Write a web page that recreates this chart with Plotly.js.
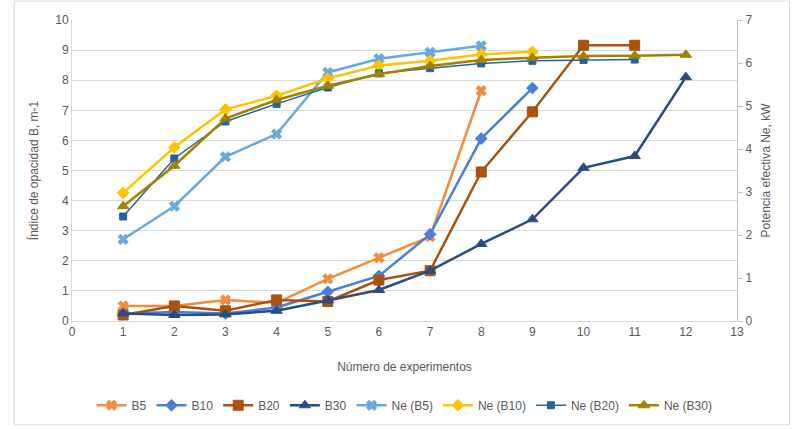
<!DOCTYPE html>
<html>
<head>
<meta charset="utf-8">
<script src="https://cdn.plot.ly/plotly-3.0.1.min.js"></script>
<style>html,body{margin:0;padding:0;background:#fff;}#chart{width:800px;height:429px;}</style>
</head>
<body>
<div id="chart"></div>
<script>
// Number of experiments
const xB5 = [1,2,3,4,5,6,7,8];
const xB10 = [1,2,3,4,5,6,7,8,9];
const xB20 = [1,2,3,4,5,6,7,8,9,10,11];
const xB30 = [1,2,3,4,5,6,7,8,9,10,11,12];

// Opacity index B, m-1 (left axis)
const B5 = [0.5, 0.5, 0.7, 0.6, 1.4, 2.1, 2.8, 7.65];
const B10 = [0.25, 0.3, 0.25, 0.45, 0.97, 1.5, 2.88, 6.06, 7.74];
const B20 = [0.2, 0.5, 0.34, 0.7, 0.65, 1.36, 1.67, 4.95, 6.95, 9.16, 9.16];
const B30 = [0.25, 0.2, 0.22, 0.34, 0.68, 1.03, 1.67, 2.56, 3.38, 5.09, 5.48, 8.1];

// Effective power Ne, kW (right axis)
const NeB5 = [1.90, 2.67, 3.82, 4.35, 5.78, 6.10, 6.25, 6.40];
const NeB10 = [2.98, 4.04, 4.92, 5.24, 5.64, 5.94, 6.05, 6.20, 6.26];
const NeB20 = [2.43, 3.78, 4.64, 5.05, 5.43, 5.76, 5.88, 5.99, 6.05, 6.07, 6.08];
const NeB30 = [2.67, 3.61, 4.71, 5.14, 5.47, 5.74, 5.93, 6.07, 6.12, 6.16, 6.17, 6.19];

const FONT = "'Liberation Sans Narrow', 'Liberation Sans', 'DejaVu Sans', sans-serif";

function tr(name, x, y, color, symbol, msize, lw, axis) {
  return {
    type: 'scatter', mode: 'lines+markers', name: name, x: x, y: y, yaxis: axis,
    line: {color: color, width: lw},
    marker: {color: color, symbol: symbol, size: msize, line: {color: color, width: 1}},
    cliponaxis: false
  };
}

const data = [
  tr('B5', xB5, B5, '#F28C3F', 'x', 9, 2.5, 'y'),
  tr('B10', xB10, B10, '#4A80D6', 'diamond', 9, 2.5, 'y'),
  tr('B20', xB20, B20, '#A9530F', 'square', 10, 2.5, 'y'),
  tr('B30', xB30, B30, '#2A4D80', 'triangle-up', 10, 2.5, 'y'),
  tr('Ne (B5)', xB5, NeB5, '#69A9DE', 'x', 9, 2.5, 'y2'),
  tr('Ne (B10)', xB10, NeB10, '#FFC400', 'diamond', 9, 2.5, 'y2'),
  tr('Ne (B20)', xB20, NeB20, '#24649E', 'square', 7, 1.5, 'y2'),
  tr('Ne (B30)', xB30, NeB30, '#A38200', 'triangle-up', 10, 2.5, 'y2')
];

const layout = {
  width: 800, height: 429,
  margin: {l: 72, r: 63, t: 20, b: 108, autoexpand: false},
  paper_bgcolor: '#fff', plot_bgcolor: '#fff',
  font: {family: FONT, size: 12, color: '#595959'},
  showlegend: true,
  legend: {orientation: 'h', x: 0.5, xanchor: 'center', y: -0.28, yanchor: 'middle',
           font: {family: FONT, size: 12, color: '#595959'}, itemwidth: 30, tracegroupgap: 0},
  xaxis: {
    range: [0, 13], dtick: 1, tick0: 0, showgrid: false, zeroline: false,
    showline: true, linecolor: '#d9d9d9', linewidth: 1, ticks: '',
    tickfont: {size: 12, color: '#595959'},
    title: {text: 'Número de experimentos', font: {size: 12, color: '#595959'}, standoff: 24}
  },
  yaxis: {
    range: [0, 10], dtick: 1, tick0: 0, showgrid: true, gridcolor: '#d9d9d9', gridwidth: 1,
    zeroline: false, showline: true, linecolor: '#d9d9d9', ticks: '',
    tickfont: {size: 12, color: '#595959'},
    title: {text: 'Índice de opacidad B, m-1', font: {size: 12, color: '#595959'}, standoff: 14}
  },
  yaxis2: {
    overlaying: 'y', side: 'right', range: [0, 7], dtick: 1, tick0: 0,
    showgrid: false, zeroline: false, showline: true, linecolor: '#bfbfbf',
    ticks: 'outside', ticklen: 5, tickcolor: '#bfbfbf',
    tickfont: {size: 12, color: '#595959'},
    title: {text: 'Potencia efectiva Ne, kW', font: {size: 12, color: '#595959'}, standoff: 10}
  },
  shapes: [{type: 'rect', xref: 'paper', yref: 'paper', x0: -0.087, x1: 1.079, y0: -0.345, y1: 1.063,
            line: {color: '#d9d9d9', width: 1}, fillcolor: 'rgba(0,0,0,0)', layer: 'below'}]
};

Plotly.newPlot('chart', data, layout, {displayModeBar: false, staticPlot: true});
</script>
</body>
</html>
